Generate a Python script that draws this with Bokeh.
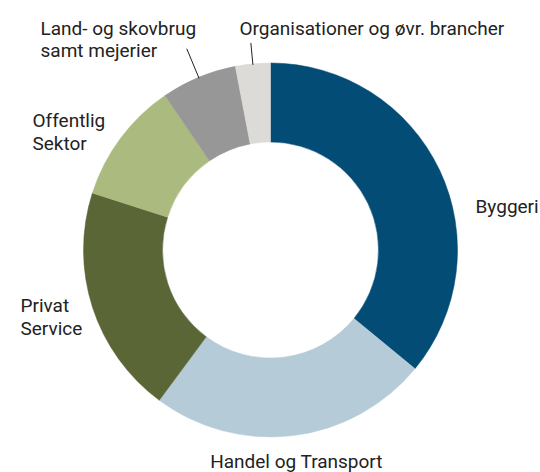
import math
from bokeh.plotting import figure
from bokeh.models import Range1d, ColumnDataSource
from bokeh.core.properties import value
from bokeh.embed import file_html
from bokeh.resources import INLINE

# ---- data ----
categories = ["Byggeri", "Handel og Transport", "Privat\nService", "Offentlig\nSektor",
              "Land- og skovbrug\nsamt mejerier", "Organisationer og øvr. brancher"]
shares = [35.8, 24.1, 19.7, 10.5, 6.5, 3.0]
colors = ["#034c76", "#b6cbd8", "#5a6636", "#abba7f", "#979797", "#dcdbd7"]

W, H = 540, 472
p = figure(width=W, height=H, output_backend="svg", toolbar_location=None,
           x_range=Range1d(0, W), y_range=Range1d(0, H),
           min_border=0, outline_line_color=None)
p.axis.visible = False
p.grid.visible = False
p.background_fill_color = "white"
p.border_fill_color = "white"

def Y(img_y):
    return H - img_y

cx, cy = 270, Y(249.5)
r_out, r_in = 187, 108

total = sum(shares)
starts, ends = [], []
acc = 0.0
for s in shares:
    a0 = acc / total * 2 * math.pi
    acc += s
    a1 = acc / total * 2 * math.pi
    starts.append(math.pi / 2 - a0)
    ends.append(math.pi / 2 - a1)

src = ColumnDataSource(dict(x=[cx] * len(shares), y=[cy] * len(shares),
                            start=starts, end=ends, color=colors))
p.annular_wedge(x="x", y="y", inner_radius=r_in, outer_radius=r_out,
                start_angle="start", end_angle="end", direction="clock",
                fill_color="color", line_color="color", line_width=0.5, source=src)

# leader lines for the two small slices (radial, from the outer edge)
lead_len = {4: 31, 5: 21}
xs0, ys0, xs1, ys1 = [], [], [], []
for i, L in lead_len.items():
    mid = (starts[i] + ends[i]) / 2
    xs0.append(cx + (r_out - 1) * math.cos(mid))
    ys0.append(cy + (r_out - 1) * math.sin(mid))
    xs1.append(cx + (r_out + L) * math.cos(mid))
    ys1.append(cy + (r_out + L) * math.sin(mid))
p.segment(x0=xs0, y0=ys0, x1=xs1, y1=ys1, line_color="#222222", line_width=1)

# labels: (left/center x, first-line image y, align)
label_pos = [(475, 206, "left"), (296, 461, "center"), (20, 305, "left"),
             (32, 120, "left"), (40, 27.5, "left"), (239, 27.5, "left")]
line_gap = 22.5
tx, ty, tt, ta = [], [], [], []
for cat, (x, y, al) in zip(categories, label_pos):
    for k, line in enumerate(cat.split("\n")):
        tx.append(x)
        ty.append(Y(y + k * line_gap))
        tt.append(line)
        ta.append(al)
tsrc = ColumnDataSource(dict(x=tx, y=ty, text=tt, align=ta))
p.text(x="x", y="y", text="text", text_align="align", text_baseline="middle",
       text_font=value("Roboto"), text_font_size="19px", text_color="#222222",
       source=tsrc)

open("out.html", "w").write(file_html(p, INLINE))
